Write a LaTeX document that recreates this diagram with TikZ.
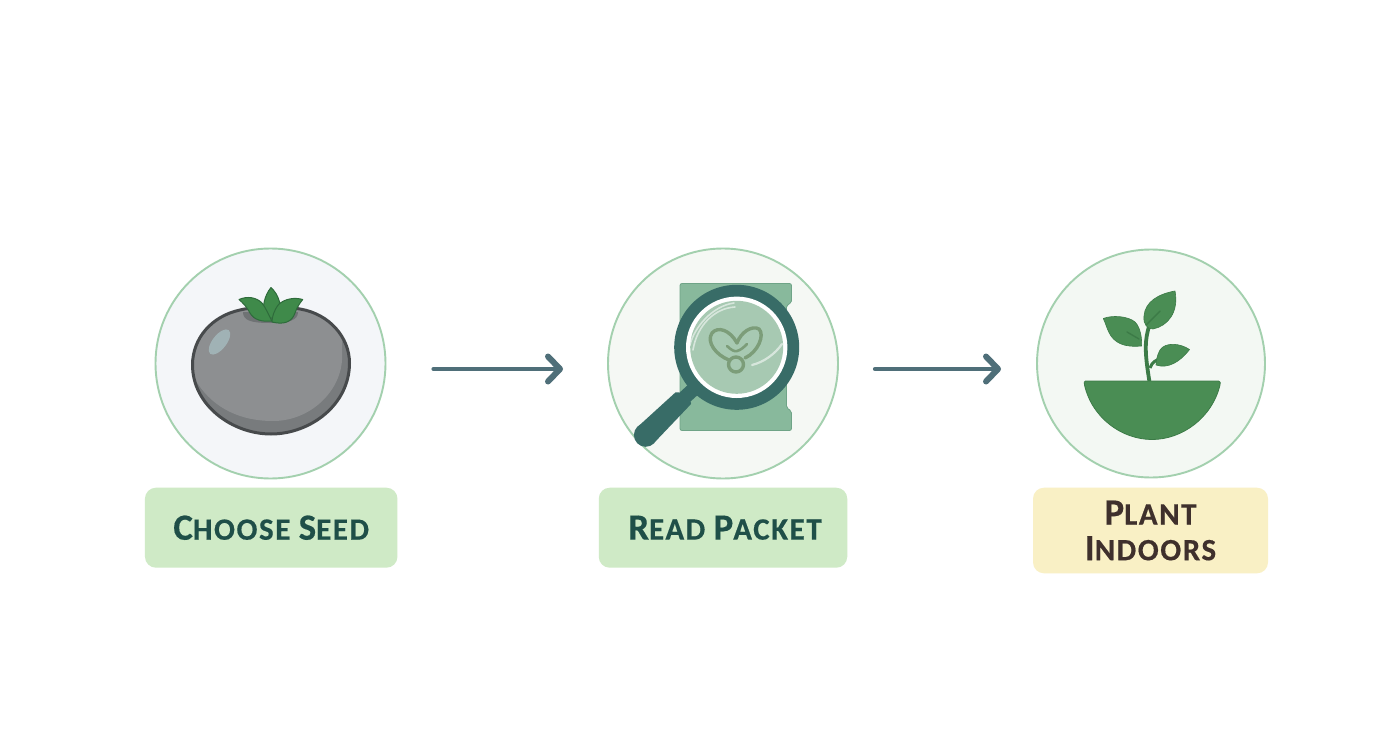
\documentclass[tikz,border=0pt]{standalone}
\usepackage{fontspec}
\setmainfont{Carlito}[BoldFont=Carlito Bold,BoldFeatures={LetterSpace=5,FakeBold=0.4}]
\usetikzlibrary{arrows.meta}
\definecolor{ringgreen}{HTML}{A3D0AE}
\definecolor{flowcol}{HTML}{4F6F79}
\definecolor{labgreen}{HTML}{CFEAC6}
\definecolor{labyellow}{HTML}{F9F0C5}
\definecolor{txtgreen}{HTML}{1F4F48}
\definecolor{txtbrown}{HTML}{3F302C}
\definecolor{leafgreen}{HTML}{3F8A4A}
\definecolor{leafline}{HTML}{2E6B3B}
\definecolor{plantgreen}{HTML}{4A8D54}
\definecolor{plantdark}{HTML}{3C7B47}
\definecolor{bodylight}{HTML}{8D8F91}
\definecolor{bodydark}{HTML}{787B7D}
\definecolor{bodyline}{HTML}{474A4C}
\definecolor{packet}{HTML}{88B99C}
\definecolor{packetedge}{HTML}{6FA487}
\definecolor{lens}{HTML}{A7C9B2}
\definecolor{glassring}{HTML}{386C67}
\definecolor{seedline}{HTML}{7C9D79}
\definecolor{discone}{HTML}{F4F6F9}
\definecolor{disctwo}{HTML}{F5F8F4}
\definecolor{discthree}{HTML}{F3F8F3}
\definecolor{dimple}{HTML}{6F7274}
\definecolor{shine}{HTML}{A0B2B5}
% small-capital setting: a large initial, then the rest at the smaller size
\newcommand{\capsword}[2]{{\fontsize{37}{35.7}\selectfont #1}{\fontsize{31}{35.7}\selectfont #2}}
\tikzset{
  stepdisc/.style={circle,draw=ringgreen,line width=1.9pt,inner sep=0pt,outer sep=0pt},
  steplabel/.style={rounded corners=11pt,inner sep=0pt,outer sep=0pt,align=center,
    font=\fontsize{30}{35.7}\selectfont\bfseries},
  flow/.style={draw=flowcol,line width=4.2pt,line cap=round,
    -{Straight Barb[length=12pt,width=25pt,line width=6pt,round]}},
  leafa/.style={fill=leafgreen,draw=leafline,line width=1pt,line join=round},
  plantleaf/.style={fill=plantgreen,draw=plantdark,line width=.6pt,line join=round},
  vein/.style={draw=plantdark,line width=1.4pt,line cap=round},
  seed/.style={draw=seedline,line width=3.4pt,line join=round,line cap=round},
  glare/.style={draw=white,draw opacity=.55,line cap=round}
}
\begin{document}
\begin{tikzpicture}[x=1pt,y=-1pt]
\useasboundingbox (0,0) rectangle (1392,752);
\fill[white] (0,0) rectangle (1392,752);

% discs
\node[stepdisc,fill=discone,minimum size=230pt] (disc1) at (270.5,363.5) {};
\node[stepdisc,fill=disctwo,minimum size=230pt] (disc2) at (723,363.5) {};
\node[stepdisc,fill=discthree,minimum size=228pt] (disc3) at (1151,363.5) {};

% labels
\node[steplabel,fill=labgreen,text=txtgreen,minimum width=252.5pt,minimum height=80pt] (lab1) at (271.2,527.7) {\capsword{C}{HOOSE} \capsword{S}{EED}};
\node[steplabel,fill=labgreen,text=txtgreen,minimum width=248.5pt,minimum height=80pt] (lab2) at (723,527.7) {\hspace*{4pt}\capsword{R}{EAD} \capsword{P}{ACKET}};
\node[steplabel,fill=labyellow,text=txtbrown,minimum width=235pt,minimum height=85.6pt] (lab3) at (1150.5,530.5) {\capsword{P}{LANT}\\\capsword{I}{NDOORS}};

% connectors
\draw[flow] ([xshift=48pt,yshift=-5.5pt]disc1.east) -- ([xshift=-45pt,yshift=-5.5pt]disc2.west);
\draw[flow] ([xshift=37pt,yshift=-5.5pt]disc2.east) -- ([xshift=-36pt,yshift=-5.5pt]disc3.west);

% tomato
\def\tomato{(240,310) .. controls (256,306) and (285,306) .. (300,309)
  .. controls (330,314) and (349.5,338) .. (349.5,363)
  .. controls (349.5,405) and (310,434) .. (271,434)
  .. controls (232,434) and (192.5,405) .. (192.5,365)
  .. controls (192.5,338) and (212,316) .. (240,310) -- cycle}
\fill[bodydark] \tomato;
\begin{scope}
  \clip \tomato;
  \fill[bodylight] (180,300) -- (342,300) -- (342,360)
    .. controls (340,392) and (310,421) .. (273,421)
    .. controls (240,421) and (214,408) .. (198,384) -- (180,360) -- cycle;
  \fill[dimple] (243,312) -- (298,312) .. controls (298,320) and (290,323) .. (270,323)
    .. controls (250,323) and (243,320) .. (243,312) -- cycle;
\end{scope}
\draw[bodyline,line width=3pt] \tomato;
\fill[shine,rotate around={-38:(219.5,342)}] (219.5,342) ellipse (7pt and 15pt);

% calyx
\path[leafa] (271,287.5) .. controls (264,296) and (262,308) .. (264,318) -- (280,318)
  .. controls (282,306) and (279,295) .. (271,287.5) -- cycle;
\path[leafa] (239,299.5) .. controls (247,296) and (256,297) .. (262,303)
  .. controls (266,308) and (268,314) .. (272,321) .. controls (262,322) and (254,320) .. (250,313)
  .. controls (247,307) and (243,303) .. (239,299.5) -- cycle;
\path[leafa] (302.7,299.5) .. controls (294,297) and (285,299) .. (279,304)
  .. controls (274,310) and (272,317) .. (272,322) .. controls (284,325) and (292,322) .. (295,313)
  .. controls (297,307) and (300,303) .. (302.7,299.5) -- cycle;

% packet
\path[fill=packet,draw=packetedge,line width=.8pt,rounded corners=2pt]
  (680,283.5) -- (791.5,283.5) -- (791.5,303) -- (786.5,305) -- (786.5,408) -- (791.5,411)
  -- (791.5,430.5) -- (680,430.5) -- cycle;

% magnifier
\path[fill=glassring,rounded corners=2pt] (637.5,427) -- (677,391) -- (692,403) -- (654,443) -- cycle;
\fill[glassring] (645.7,435) circle (11.8pt);
\draw[glassring,line width=14pt,line cap=butt] (708,376) -- (684,398);
\fill[glassring] (736.7,347.3) circle (62.5pt);
\fill[white] (736.7,347.3) circle (50.7pt);
\fill[lens] (736.7,347.3) circle (46.5pt);
\draw[glare,line width=1.6pt] (693,350) .. controls (697,325) and (715,308) .. (735,307);
\draw[glare,line width=1.6pt] (690,345) .. controls (694,328) and (712,306) .. (734,303);
\draw[glare,line width=2.2pt] (752,365) .. controls (764,362) and (775,354) .. (782,344);
\draw[seed] (737,343) .. controls (730,330) and (718,326) .. (712,333)
  .. controls (706,342) and (716,355) .. (729,360);
\draw[seed] (737,343) .. controls (741,332) and (752,325) .. (759,329)
  .. controls (765,335) and (758,352) .. (745,358);
\draw[seed] (736,364.5) circle (7.5pt);
\draw[seed,line width=2.6pt] (727,346) .. controls (731,350) and (735,352) .. (737,351) .. controls (741,350) and (744,347) .. (747,344);

% plant
\draw[plantdark,line width=3.8pt,line cap=butt] (1149.5,382) .. controls (1146,360) and (1144,345) .. (1148,330) .. controls (1150,322) and (1153,316) .. (1157,310);
\draw[plantdark,line width=3pt] (1150,368) .. controls (1152,362) and (1156,360) .. (1162,358);
\path[plantleaf] (1175,291) .. controls (1158,294) and (1145,302) .. (1144,316)
  .. controls (1143,325) and (1148,329) .. (1153,329)
  .. controls (1168,326) and (1179,312) .. (1175,291) -- cycle;
\path[plantleaf] (1103.3,318.5) .. controls (1112,315) and (1128,316) .. (1135,322)
  .. controls (1141,328) and (1142,340) .. (1141.5,346)
  .. controls (1130,347) and (1118,346) .. (1111,336)
  .. controls (1107,330) and (1106,324) .. (1103.3,318.5) -- cycle;
\path[plantleaf] (1189.5,349.5) .. controls (1180,343) and (1165,342) .. (1160,350)
  .. controls (1157,355) and (1156,362) .. (1156,365)
  .. controls (1168,369) and (1180,362) .. (1189.5,349.5) -- cycle;
\draw[vein] (1146,325) -- (1160,311);
\draw[vein] (1127,332) -- (1139,339);
\path[fill=plantgreen,draw=plantdark,line width=.8pt,line join=round]
  (1085.5,381) -- (1218.5,381) .. controls (1220.5,381) and (1220.5,383) .. (1220,385)
  .. controls (1212,418) and (1182,439.5) .. (1152,439.5)
  .. controls (1122,439.5) and (1092,418) .. (1084.5,385)
  .. controls (1084,383) and (1084,381) .. (1085.5,381) -- cycle;
\end{tikzpicture}
\end{document}
